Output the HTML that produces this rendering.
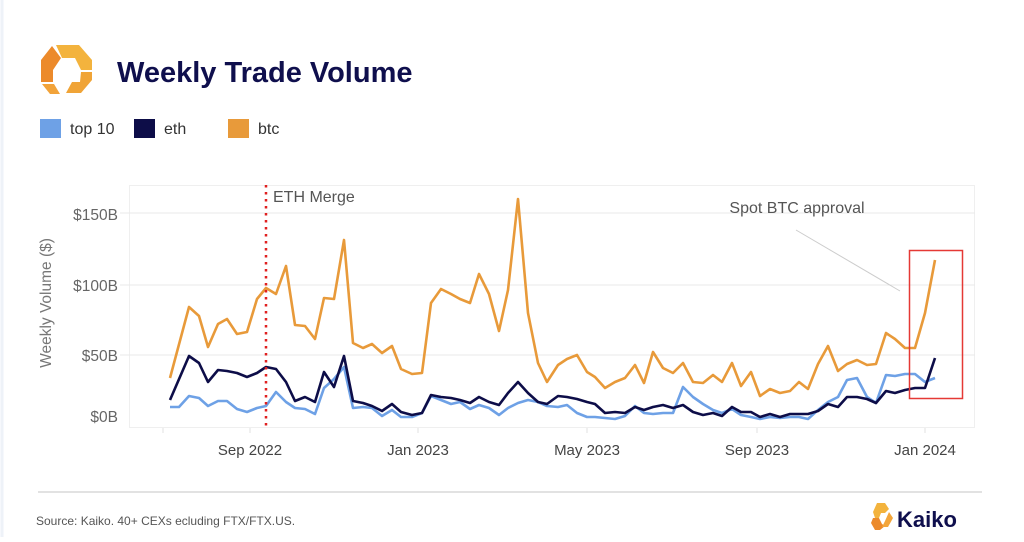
<!DOCTYPE html>
<html><head><meta charset="utf-8"><style>
body{margin:0;background:#fff;width:1024px;height:537px;overflow:hidden;font-family:"Liberation Sans",Arial,sans-serif}
</style></head><body>
<svg width="1024" height="537" viewBox="0 0 1024 537" xmlns="http://www.w3.org/2000/svg" font-family="Liberation Sans, Arial, sans-serif">
<rect width="1024" height="537" fill="#fff"/>
<line x1="2" y1="0" x2="2" y2="537" stroke="#eef2f8" stroke-width="3"/>
<!-- logo -->
<g>
<polygon points="56,45 79,45 92,60 92,70 81,70 75,58 62,58" fill="#f3b33d"/>
<polygon points="52,46 61,58 53,70 53,82 41,82 41,60" fill="#ec8a2b"/>
<polygon points="44,84 55,84 60,92 72,92 74,82 62,84 57,92 53,92" fill="none"/>
<polygon points="42,84 54,84 60,94 50,94" fill="#f2a33a"/>
<polygon points="92,72 92,80 81,93 66,93 72,82 80,82 81,72" fill="#f0a437"/>
</g>
<text x="117" y="82" font-size="29" font-weight="bold" fill="#0f0f4d">Weekly Trade Volume</text>
<!-- legend -->
<rect x="40" y="119" width="21" height="19" fill="#6ea1e6"/>
<text x="70" y="134" font-size="16" fill="#333">top 10</text>
<rect x="134" y="119" width="21" height="19" fill="#0d0d48"/>
<text x="164" y="134" font-size="16" fill="#333">eth</text>
<rect x="228" y="119" width="21" height="19" fill="#e89a3a"/>
<text x="258" y="134" font-size="16" fill="#333">btc</text>
<!-- plot frame -->
<rect x="129.5" y="185.5" width="845" height="242" fill="none" stroke="#efefef"/>
<g stroke="#e8e8e8" stroke-width="1">
<line x1="120" y1="213" x2="975" y2="213"/>
<line x1="120" y1="285" x2="975" y2="285"/>
<line x1="120" y1="355" x2="975" y2="355"/>
</g>
<g font-size="15.5" fill="#666" text-anchor="end">
<text x="118" y="220">$150B</text>
<text x="118" y="291">$100B</text>
<text x="118" y="361">$50B</text>
<text x="118" y="422">$0B</text>
</g>
<text transform="translate(51,303) rotate(-90)" font-size="15.5" fill="#777" text-anchor="middle">Weekly Volume ($)</text>
<g stroke="#e0e0e0"><line x1="250" y1="428" x2="250" y2="433"/><line x1="418" y1="428" x2="418" y2="433"/><line x1="587" y1="428" x2="587" y2="433"/><line x1="757" y1="428" x2="757" y2="433"/><line x1="925" y1="428" x2="925" y2="433"/><line x1="163" y1="428" x2="163" y2="433"/></g>
<g font-size="15" fill="#444" text-anchor="middle">
<text x="250" y="455">Sep 2022</text>
<text x="418" y="455">Jan 2023</text>
<text x="587" y="455">May 2023</text>
<text x="757" y="455">Sep 2023</text>
<text x="925" y="455">Jan 2024</text>
</g>
<!-- series -->
<g fill="none" stroke-width="2.6" stroke-linejoin="round">
<polyline stroke="#e89a3a" points="170,378 189,307 199,316 208,347 218,324 227,319 237,334 247,332 257,299 266,288 276,294 286,266 295,325 305,326 315,339 324,298 334,299 344,240 353,343 363,348 372,344 382,353 392,346 401,369 412,374 422,373 431,303 441,289 451,294 460,299 470,303 479,274 489,294 499,331 508,290 518,199 528,313 538,363 547,382 558,365 567,359 577,355 587,372 595,377 605,388 615,382 625,378 635,365 644,383 653,352 663,368 673,373 683,363 693,382 703,383 713,375 722,382 732,363 741,386 751,372 760,396 770,389 780,393 790,391 799,382 808,389 818,364 828,346 838,371 847,364 857,360 867,365 876,364 886,333 895,339 905,348 915,348 925,313 935,260"/>
<polyline stroke="#6ea1e6" points="170,407 179,407 189,396 199,398 208,406 218,401 227,401 237,409 247,412 257,408 266,406 276,392 286,402 295,408 305,409 315,414 324,388 334,379 344,367 353,408 363,407 372,408 382,416 392,410 401,417 412,417 422,413 431,396 441,400 451,404 460,402 470,409 479,405 489,408 499,415 508,408 518,403 528,400 538,402 547,406 558,407 567,405 577,413 587,417 595,417 605,418 615,419 625,416 635,406 644,413 653,414 663,413 673,413 683,387 693,397 703,404 713,410 722,413 732,409 741,415 751,417 760,419 770,417 780,418 790,417 799,417 808,419 818,410 828,402 838,397 847,380 857,378 867,397 876,403 886,375 895,376 905,374 915,374 925,382 935,378"/>
<polyline stroke="#0d0d48" points="170,400 189,356 199,363 208,382 218,370 227,371 237,373 247,377 257,373 266,367 276,369 286,382 295,401 305,397 315,402 324,372 334,387 344,356 353,401 363,403 372,406 382,411 392,404 401,412 412,415 422,413 431,395 441,397 451,398 460,400 470,403 479,397 489,402 499,405 508,393 518,382 528,393 538,402 547,404 558,396 567,397 577,399 587,402 595,404 605,413 615,412 625,413 635,407 644,410 653,407 663,405 673,408 683,405 693,412 703,415 713,413 722,416 732,407 741,412 751,412 760,417 770,414 780,417 790,414 799,414 808,414 818,411 828,404 838,407 847,397 857,397 867,399 876,403 886,391 895,393 905,390 915,388 925,388 935,358"/>
</g>
<!-- annotations -->
<line x1="266" y1="185" x2="266" y2="428" stroke="#e02020" stroke-width="2.5" stroke-dasharray="2.5,4.5"/>
<text x="273" y="202" font-size="16" fill="#555">ETH Merge</text>
<rect x="909.5" y="250.5" width="53" height="148" fill="none" stroke="#e53935" stroke-width="1.5"/>
<line x1="796" y1="230" x2="900" y2="291" stroke="#ccc" stroke-width="1"/>
<text x="797" y="213" font-size="16" fill="#555" text-anchor="middle">Spot BTC approval</text>
<!-- footer -->
<line x1="38" y1="492" x2="982" y2="492" stroke="#d8d8d8" stroke-width="1.5"/>
<text x="36" y="525" font-size="12" fill="#555">Source: Kaiko. 40+ CEXs ecluding FTX/FTX.US.</text>
<g>
<polygon points="877,503 885,503 889,509 885,513 881,513 879,518 875,518 873,512" fill="#f3b33d"/>
<polygon points="873,518 879,518 882,524 885,526 880,530 875,530 871,523" fill="#ec8a2b"/>
<polygon points="889,512 893,518 888,527 882,527 885,521" fill="#f3a53a"/>
</g>
<text x="897" y="527" font-size="22" font-weight="bold" fill="#0f0f4d">Kaiko</text>
</svg>
</body></html>
